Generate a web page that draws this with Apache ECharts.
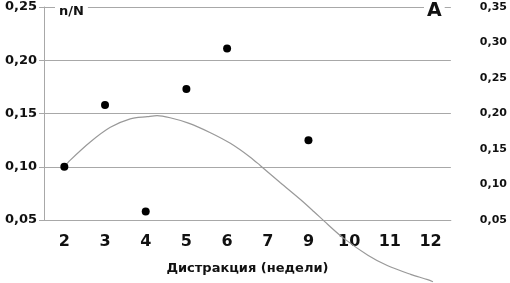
<!DOCTYPE html>
<html>
<head>
<meta charset="utf-8">
<script src="https://cdn.jsdelivr.net/npm/echarts@6/dist/echarts.min.js"></script>
<style>
  html, body { margin: 0; padding: 0; background: #fff; }
  #chart { width: 510px; height: 283px; }
</style>
</head>
<body>
<div id="chart"></div>
<script>
// недели дистракции (8 на оси нет)
const weeks = ['2', '3', '4', '5', '6', '7', '9', '10', '11', '12'];
// точки n/N
const pointValues = [0.100, 0.158, 0.058, 0.173, 0.211, '-', 0.125, '-', '-', '-'];
// кривая: позиция по оси (индекс категории) и значение
const curveX = [0, 0.14, 0.63, 1.13, 1.62, 2.04, 2.28, 2.60, 3.05, 3.59, 4.08, 4.57, 4.82, 5.31, 5.81, 6.13, 6.47, 6.86, 7.46, 7.95, 8.51, 8.93, 9.06];
const curveY = [0.100, 0.106, 0.123, 0.137, 0.145, 0.147, 0.148, 0.146, 0.141, 0.132, 0.122, 0.109, 0.101, 0.085, 0.069, 0.058, 0.046, 0.033, 0.017, 0.007, -0.001, -0.006, -0.008];

const fmt = v => v.toFixed(2).replace('.', ',');
const gray = '#a8a8a8';

const myChart = echarts.init(document.getElementById('chart'));

myChart.setOption({
    animation: false,
    backgroundColor: '#fff',
    title: [
        {
            text: 'n/N',
            left: 55,
            top: 4,
            padding: [1, 4],
            backgroundColor: '#fff',
            textStyle: { fontFamily: 'DejaVu Sans', fontWeight: 'bold', fontSize: 13, color: '#111' }
        },
        {
            text: 'A',
            left: 424,
            top: 1,
            padding: [1, 3],
            backgroundColor: '#fff',
            textStyle: { fontFamily: 'DejaVu Sans', fontWeight: 'bold', fontSize: 19, color: '#111' }
        }
    ],
    grid: { left: 44, right: 59, top: 7, bottom: 63, containLabel: false },
    xAxis: [
        {
            type: 'category',
            data: weeks,
            boundaryGap: true,
            name: 'Дистракция (недели)',
            nameLocation: 'middle',
            nameGap: 42,
            nameTextStyle: { fontFamily: 'DejaVu Sans', fontWeight: 'bold', fontSize: 13, color: '#111' },
            axisLine: { onZero: false, lineStyle: { color: gray, width: 1 } },
            axisTick: { length: 5, lineStyle: { color: gray } },
            axisLabel: { margin: 14, fontFamily: 'DejaVu Sans', fontWeight: 'bold', fontSize: 16, color: '#111' }
        },
        {
            // скрытая ось для кривой, в единицах индекса категории
            type: 'value',
            min: -0.5,
            max: 9.5,
            show: false
        }
    ],
    yAxis: [
        {
            type: 'value',
            min: 0.05,
            max: 0.25,
            interval: 0.05,
            axisLine: { show: true, onZero: false, lineStyle: { color: gray, width: 1 } },
            axisTick: { show: true, length: 5, lineStyle: { color: gray } },
            axisLabel: {
                margin: 7,
                formatter: fmt,
                fontFamily: 'DejaVu Sans', fontWeight: 'bold', fontSize: 13, color: '#111'
            },
            splitLine: { show: true, lineStyle: { color: gray, width: 1.2 } }
        },
        {
            type: 'value',
            position: 'right',
            min: 0.05,
            max: 0.35,
            interval: 0.05,
            axisLine: { show: false, onZero: false },
            axisTick: { show: false },
            axisLabel: {
                margin: 29,
                formatter: fmt,
                fontFamily: 'DejaVu Sans', fontWeight: 'bold', fontSize: 11, color: '#111'
            },
            splitLine: { show: false }
        }
    ],
    series: [
        {
            name: 'curve',
            type: 'line',
            xAxisIndex: 1,
            yAxisIndex: 0,
            data: curveX.map((x, i) => [x, curveY[i]]),
            smooth: 0.3,
            clip: false,
            showSymbol: false,
            lineStyle: { color: '#999', width: 1.2 },
            z: 2
        },
        {
            name: 'n/N',
            type: 'scatter',
            xAxisIndex: 0,
            yAxisIndex: 0,
            data: pointValues,
            symbol: 'circle',
            symbolSize: 8,
            itemStyle: { color: '#000', opacity: 1 },
            z: 3
        }
    ]
});
</script>
</body>
</html>
